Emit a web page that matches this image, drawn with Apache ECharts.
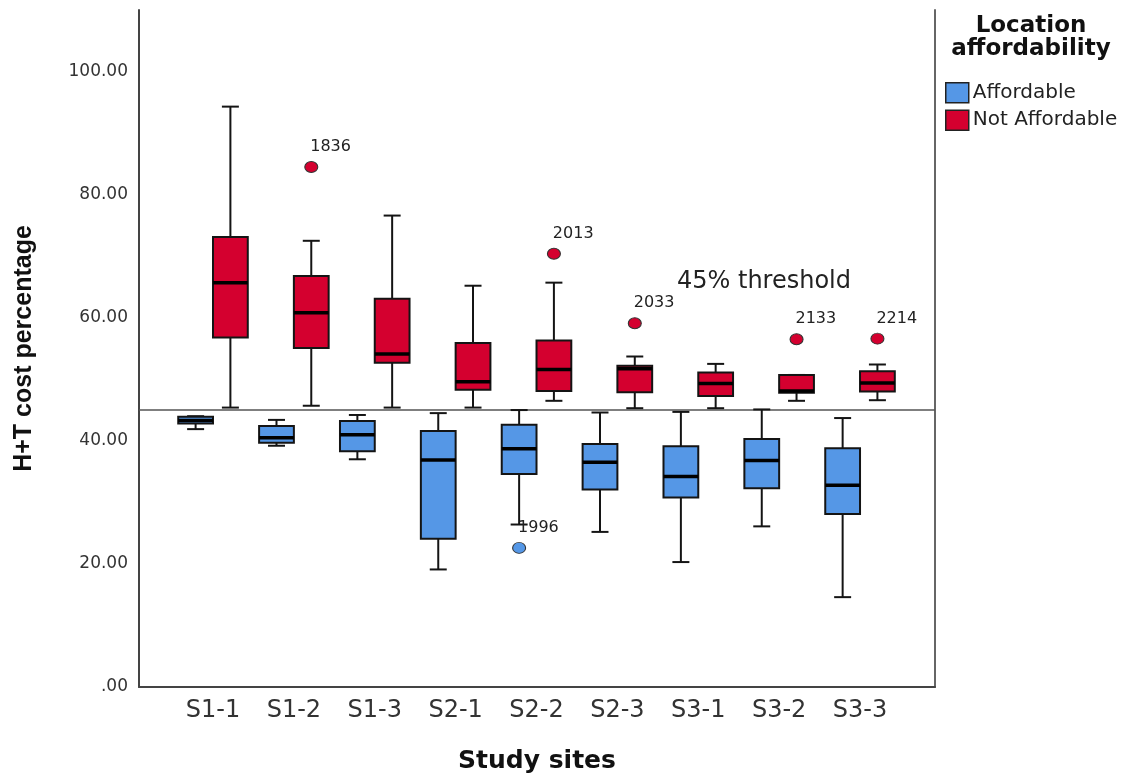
<!DOCTYPE html>
<html>
<head>
<meta charset="utf-8">
<title>H+T cost percentage by study site</title>
<script src="https://cdn.jsdelivr.net/npm/echarts@6/dist/echarts.min.js"></script>
<style>
  html, body { margin: 0; padding: 0; background: #fff; }
  #chart { width: 1124px; height: 779px; }
</style>
</head>
<body>
<div id="chart"></div>
<script>
// study sites on the x axis
const sites = ['S1-1', 'S1-2', 'S1-3', 'S2-1', 'S2-2', 'S2-3', 'S3-1', 'S3-2', 'S3-3'];

// box stats per site: [lower whisker, Q1, median, Q3, upper whisker]
const affordable = [
    [41.9, 42.8, 43.3, 43.9, 44.0],
    [39.2, 39.7, 40.5, 42.4, 43.4],
    [37.0, 38.3, 41.0, 43.2, 44.2],
    [19.1, 24.1, 36.9, 41.6, 44.5],
    [26.4, 34.6, 38.7, 42.6, 45.0],
    [25.2, 32.1, 36.5, 39.5, 44.6],
    [20.3, 30.8, 34.2, 39.1, 44.7],
    [26.1, 32.3, 36.8, 40.3, 45.1],
    [14.6, 28.1, 32.8, 38.8, 43.7]
];
const notAffordable = [
    [45.4, 56.8, 65.7, 73.1, 94.3],
    [45.7, 55.1, 60.8, 66.8, 72.5],
    [45.4, 52.7, 54.1, 63.1, 76.6],
    [45.4, 48.3, 49.6, 55.9, 65.2],
    [46.5, 48.1, 51.6, 56.3, 65.7],
    [45.3, 47.9, 51.7, 52.2, 53.7],
    [45.3, 47.3, 49.3, 51.1, 52.5],
    [46.5, 47.8, 48.1, 50.7, 50.7],
    [46.6, 48.0, 49.4, 51.3, 52.4]
];

// outliers: [site index, value, case id]
const affordableOutliers = [[4, 22.6, '1996']];
const notAffordableOutliers = [
    [1, 84.5, '1836'],
    [4, 70.4, '2013'],
    [5, 59.1, '2033'],
    [7, 56.5, '2133'],
    [8, 56.6, '2214']
];

const threshold = 45;
const yTicks = [0, 20, 40, 60, 80, 100];

const BLUE = '#5597e6';
const RED = '#d4002f';
const FONT = 'DejaVu Sans';

var chartDom = document.getElementById('chart');
var myChart = echarts.init(chartDom);

// box offset inside a site band, in axis units (blue left, red right)
const OFFSET = 0.215;

const toBoxData = stats => stats.map((s, i) => [i, ...s]);

renderBox = offset => (params, api) => {
    const x = api.value(0);
    const unit = api.size([1, 0])[0];
    const cx = api.coord([x, 0])[0] + offset * unit;
    const half = unit * 0.215;
    const cap = unit * 0.105;
    const y = idx => api.coord([x, api.value(idx)])[1];
    const yMin = y(1), yQ1 = y(2), yMed = y(3), yQ3 = y(4), yMax = y(5);
    const lineStyle = {stroke: '#141414', lineWidth: 2};
    return {
        type: 'group',
        children: [
            {type: 'line', shape: {x1: cx, y1: yMax, x2: cx, y2: yMin}, style: lineStyle},
            {type: 'line', shape: {x1: cx - cap, y1: yMax, x2: cx + cap, y2: yMax}, style: lineStyle},
            {type: 'line', shape: {x1: cx - cap, y1: yMin, x2: cx + cap, y2: yMin}, style: lineStyle},
            {
                type: 'rect',
                shape: {x: cx - half, y: yQ3, width: half * 2, height: yQ1 - yQ3},
                style: {fill: api.visual('color'), stroke: '#141414', lineWidth: 2}
            },
            {type: 'line', shape: {x1: cx - half, y1: yMed, x2: cx + half, y2: yMed}, style: {stroke: '#000', lineWidth: 3.5}}
        ]
    };
};

outlierSeries = (name, data, color, offsetPx) => ({
    name: name,
    type: 'scatter',
    data: data,
    symbol: 'circle',
    symbolSize: [13, 11],
    symbolOffset: [offsetPx, 0],
    itemStyle: {color: color, borderColor: '#333', borderWidth: 1, opacity: 1},
    label: {
        show: true,
        position: [6, -22],
        formatter: p => p.value[2],
        fontFamily: FONT,
        fontSize: 16,
        color: '#222'
    },
    z: 5
});

var option = {
    animation: false,
    textStyle: {fontFamily: FONT},
    grid: {left: 139, right: 189, top: 10, bottom: 89, containLabel: false},
    legend: {
        orient: 'vertical',
        left: 940,
        top: 77,
        itemWidth: 23,
        itemHeight: 20,
        itemGap: 6,
        icon: 'rect',
        selectedMode: false,
        data: ['Affordable', 'Not Affordable'],
        itemStyle: {borderColor: '#222', borderWidth: 1.5},
        textStyle: {fontFamily: FONT, fontSize: 20, color: '#222', padding: [0, 0, 0, -1]}
    },
    xAxis: {
        type: 'value',
        min: -0.915,
        max: 8.927,
        name: 'Study sites',
        nameLocation: 'middle',
        nameGap: 62,
        nameTextStyle: {fontFamily: FONT, fontSize: 25, fontWeight: 'bold', color: '#111'},
        axisLine: {show: true, onZero: false, lineStyle: {color: '#444', width: 2}},
        axisTick: {show: false},
        splitLine: {show: false},
        axisLabel: {
            customValues: sites.map((s, i) => i),
            formatter: v => sites[Math.round(v)],
            fontFamily: FONT,
            fontSize: 24,
            color: '#333',
            margin: 12
        }
    },
    yAxis: [
        {
            type: 'value',
            min: 0,
            max: 110,
            name: 'H+T cost percentage',
            nameLocation: 'middle',
            nameGap: 102,
            nameTextStyle: {fontFamily: 'Liberation Sans', fontSize: 25, fontWeight: 'bold', color: '#111'},
            axisLine: {show: true, onZero: false, lineStyle: {color: '#444', width: 2}},
            axisTick: {show: false},
            splitLine: {show: false},
            axisLabel: {
                customValues: yTicks,
                formatter: v => v === 0 ? '.00' : v.toFixed(2),
                fontFamily: FONT,
                fontSize: 17,
                color: '#333',
                margin: 11
            }
        },
        {
            type: 'value',
            position: 'right',
            min: 0,
            max: 110,
            axisLine: {show: true, onZero: false, lineStyle: {color: '#666', width: 2}},
            axisTick: {show: false},
            axisLabel: {show: false},
            splitLine: {show: false}
        }
    ],
    graphic: [
        {type: 'text', x: 1031, y: 26, style: {text: 'Location', font: 'bold 23px "DejaVu Sans"', fill: '#111', textAlign: 'center', textVerticalAlign: 'middle'}},
        {type: 'text', x: 1031, y: 49, style: {text: 'affordability', font: 'bold 23px "DejaVu Sans"', fill: '#111', textAlign: 'center', textVerticalAlign: 'middle'}},
        {type: 'text', x: 677, y: 282, style: {text: '45% threshold', font: '24px "DejaVu Sans"', fill: '#222', textAlign: 'left', textVerticalAlign: 'middle'}}
    ],
    series: [
        {
            name: 'Affordable',
            type: 'custom',
            renderItem: renderBox(-OFFSET),
            itemStyle: {color: BLUE, borderColor: '#222', borderWidth: 1.5},
            encode: {x: 0, y: [1, 2, 3, 4, 5]},
            data: toBoxData(affordable),
            z: 3
        },
        {
            name: 'Not Affordable',
            type: 'custom',
            renderItem: renderBox(OFFSET),
            itemStyle: {color: RED, borderColor: '#222', borderWidth: 1.5},
            encode: {x: 0, y: [1, 2, 3, 4, 5]},
            data: toBoxData(notAffordable),
            z: 3
        },
        {
            ...outlierSeries('Affordable outliers', affordableOutliers, BLUE, -17.4),
            markLine: {
                silent: true,
                symbol: ['none', 'none'],
                label: {show: false},
                lineStyle: {color: '#555', width: 1.5, type: 'solid'},
                data: [{yAxis: threshold}],
                z: 2
            }
        },
        outlierSeries('Not Affordable outliers', notAffordableOutliers, RED, 17.4)
    ]
};

myChart.setOption(option);
</script>
</body>
</html>
